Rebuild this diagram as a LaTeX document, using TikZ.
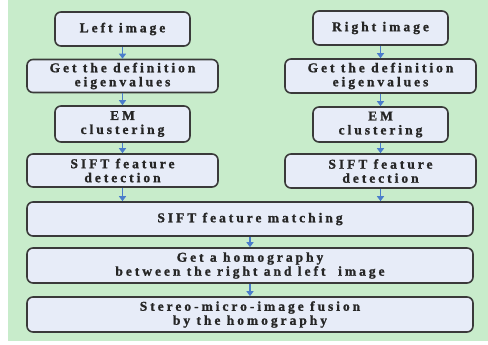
\documentclass[tikz,border=0pt]{standalone}
\usepackage{fontspec}
\setmainfont{Liberation Serif}[LetterSpace=22,BoldFeatures={FakeBold=1.2}]
\usetikzlibrary{arrows.meta}
\definecolor{bggreen}{HTML}{C8ECCB}
\definecolor{boxfill}{HTML}{E7ECF8}
\definecolor{boxline}{HTML}{3A3A3A}
\definecolor{arrowblue}{HTML}{4A7DCB}
\begin{document}
\begin{tikzpicture}[x=1pt,y=-1pt,
  stepbox/.style={draw=boxline,fill=boxfill,line width=1.6pt,rounded corners=6pt,
    align=center,inner sep=0pt,text=black!85,font=\fontsize{13.5}{14}\selectfont\bfseries},
  narrow/.style={stepbox,minimum width=135pt,minimum height=34pt},
  wide/.style={stepbox,minimum width=191pt,minimum height=33pt},
  full/.style={stepbox,minimum width=446pt,minimum height=35pt},
  flow/.style={draw=arrowblue,line width=1.4pt,-{Triangle[length=5pt,width=7pt]}}]
\useasboundingbox (0,0) rectangle (488,345);
\fill[bggreen] (8,0) rectangle (488,341);
% left column
\node[narrow] (l1) at (122.5,29) {Left image};
\node[wide] (l2) at (122.5,76) {Get the definition\\eigenvalues};
\node[narrow,minimum height=36pt] (l3) at (122.5,124) {EM\\clustering};
\node[wide] (l4) at (122.5,170.5) {SIFT feature\\detection};
% right column
\node[narrow] (r1) at (380.5,28) {Right image};
\node[wide,minimum height=34pt] (r2) at (380.5,76) {Get the definition\\eigenvalues};
\node[narrow,minimum height=35pt] (r3) at (380.5,124.5) {EM\\clustering};
\node[wide,minimum height=34pt] (r4) at (380.5,171) {SIFT feature\\detection};
% full-width boxes
\node[full,minimum height=34pt] (m) at (250,219) {SIFT feature matching};
\node[full] (h) at (250,265.5) {Get a homography\\between the right and left\ \ image};
\node[full] (f) at (250,314.5) {Stereo-micro-image fusion\\by the homography};
% arrows
\draw[flow] (l1) -- (l2);
\draw[flow] (l2) -- (l3);
\draw[flow] (l3) -- (l4);
\draw[flow] (r1) -- (r2);
\draw[flow] (r2) -- (r3);
\draw[flow] (r3) -- (r4);
\draw[flow] (l4.south) -- (l4.south |- m.north);
\draw[flow] (r4.south) -- (r4.south |- m.north);
\draw[flow] (m) -- (h);
\draw[flow] (h) -- (f);
\end{tikzpicture}
\end{document}
